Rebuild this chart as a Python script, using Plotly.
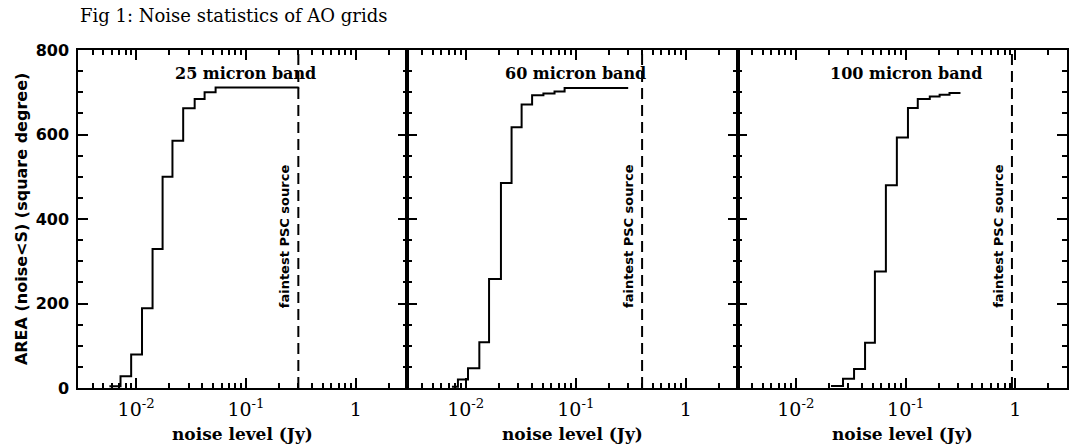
import numpy as np
import plotly.graph_objects as go

# ---- data ----
bands = ["25 micron band", "60 micron band", "100 micron band"]

noise_25 = [0.0057, 0.0072, 0.0090, 0.0113, 0.0141, 0.0174, 0.0214, 0.0268, 0.0341, 0.0420, 0.0529, 0.30]
area_25 = [4, 28, 79, 189, 329, 500, 585, 662, 684, 700, 711, 713]

noise_60 = [0.0075, 0.0085, 0.0105, 0.0133, 0.0163, 0.0209, 0.0261, 0.0322, 0.0401, 0.0508, 0.0641, 0.0791, 0.299]
area_60 = [3, 20, 47, 108, 258, 485, 617, 671, 693, 697, 702, 710, 710]

noise_100 = [0.0209, 0.0269, 0.0339, 0.0427, 0.0525, 0.0661, 0.0832, 0.105, 0.129, 0.166, 0.204, 0.251, 0.316]
area_100 = [5, 22, 45, 107, 276, 480, 593, 663, 684, 690, 694, 698, 698]

psc_limit = [0.30, 0.40, 0.93]   # faintest PSC source (Jy)
x_ticks = [0.01, 0.1, 1]
x_tick_text = ["10<sup>-2</sup>", "10<sup>-1</sup>", "1"]
y_ticks = [0, 200, 400, 600, 800]

series = [(noise_25, area_25), (noise_60, area_60), (noise_100, area_100)]

W, H = 1069, 444
ML, MR, MT, MB = 78, 0, 50, 56
pw = W - ML - MR
edges = [0, 330 / pw, 661 / pw, 1.0]

fig = go.Figure()
SERIF = "DejaVu Serif"
SANS = "DejaVu Sans"

for i, (xs, ys) in enumerate(series):
    sfx = "" if i == 0 else str(i + 1)
    fig.add_trace(go.Scatter(x=xs, y=ys, mode="lines", line_shape="hv",
                             line=dict(color="black", width=2),
                             xaxis="x" + sfx, yaxis="y" + sfx, showlegend=False))
    fig.add_trace(go.Scatter(x=[psc_limit[i], psc_limit[i]], y=[0, 800], mode="lines",
                             line=dict(color="black", width=2, dash="11px,6px"),
                             xaxis="x" + sfx, yaxis="y" + sfx, showlegend=False))
    xa = dict(type="log", range=[-2.53, 0.47], domain=[edges[i], edges[i + 1]],
              anchor="y" + sfx, showgrid=False, zeroline=False,
              showline=True, linecolor="black", linewidth=2, mirror="ticks",
              ticks="inside", ticklen=10, tickwidth=1.5, tickcolor="black",
              tickvals=x_ticks, ticktext=x_tick_text,
              tickfont=dict(family=SERIF, size=19, color="black"),
              ticklabelstandoff=3,
              minor=dict(ticks="inside", ticklen=5, tickwidth=1.5, tickcolor="black",
                         dtick="D1", showgrid=False))
    ya = dict(range=[0, 800], domain=[0, 1], anchor="x" + sfx, showgrid=False,
              zeroline=False, showline=True, linecolor="black", linewidth=1.5,
              mirror="ticks", ticks="inside", ticklen=10, tickwidth=1.5,
              tickcolor="black", tickvals=y_ticks, showticklabels=(i == 0),
              tickfont=dict(family=SANS, size=16, color="black", weight="bold"),
              ticklabelstandoff=4,
              minor=dict(ticks="inside", ticklen=5, tickwidth=1.5, tickcolor="black",
                         dtick=50, showgrid=False))
    fig.layout["xaxis" + sfx] = xa
    fig.layout["yaxis" + sfx] = ya

    xr = "x" + sfx
    yr = "y" + sfx
    fig.add_annotation(x=np.log10(0.1), y=745, xref=xr, yref=yr, text="<b>" + bands[i] + "</b>",
                       showarrow=False, font=dict(family=SERIF, size=16, color="black"))
    fig.add_annotation(x=np.log10(psc_limit[i]), y=360, xref=xr, yref=yr, xshift=-13,
                       text="<b>faintest PSC source</b>", textangle=-90, showarrow=False,
                       font=dict(family=SANS, size=13, color="black"))
    fig.add_annotation(x=0.5, y=0, xref=xr + " domain", yref="paper", yshift=-46,
                       xanchor="center", yanchor="middle",
                       text="<b>noise level (Jy)</b>", showarrow=False,
                       font=dict(family=SERIF, size=17, color="black"))

fig.add_annotation(x=(21 - ML) / pw, y=0.5, xref="paper", yref="paper",
                   xanchor="center", yanchor="middle",
                   text="<b>AREA (noise&lt;S) (square degree)</b>", textangle=-90,
                   showarrow=False, font=dict(family=SANS, size=16, color="black"))
fig.add_annotation(x=0, y=1, xref="paper", yref="paper", xanchor="left", yanchor="middle",
                   yshift=35, text="Fig 1: Noise statistics of AO grids", showarrow=False,
                   font=dict(family=SERIF, size=18, color="black"))

fig.update_layout(width=W, height=H, margin=dict(l=ML, r=MR, t=MT, b=MB),
                  plot_bgcolor="white", paper_bgcolor="white", showlegend=False)

fig.write_html("out.html", config={"displayModeBar": False},
               post_script="document.body.style.margin='0';document.body.style.overflow='hidden';")
